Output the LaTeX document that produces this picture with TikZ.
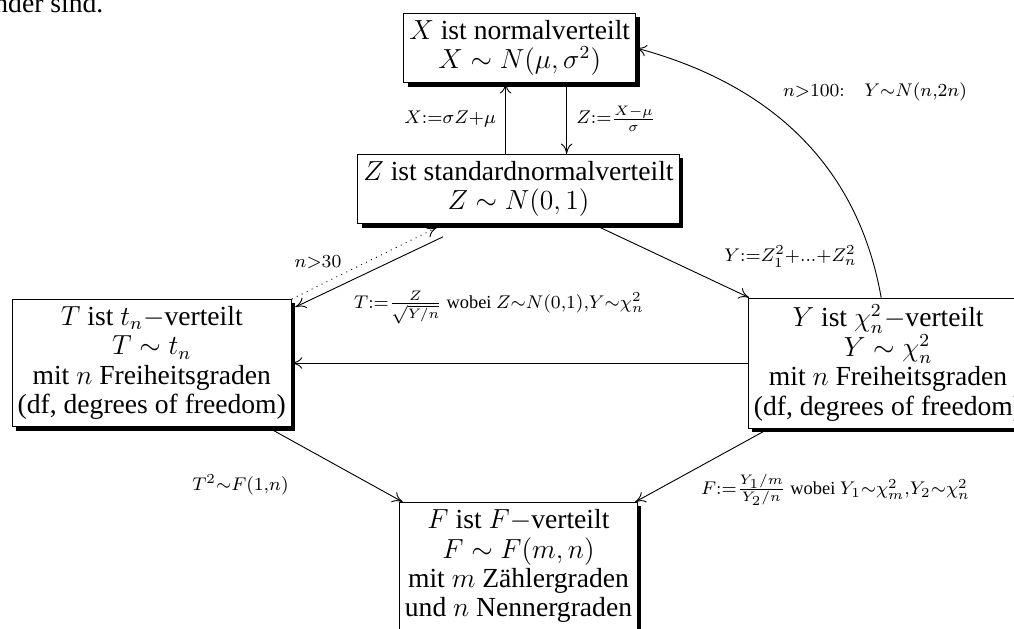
\documentclass[12pt,tikz,border=0pt]{standalone}
\usepackage{amsmath}
\usepackage[no-math]{fontspec}
\setmainfont{Liberation Serif}
\usetikzlibrary{shadows, arrows.meta}

\tikzset{
  vert/.style={draw, fill=white, align=center, inner xsep=2.4pt, inner ysep=3pt,
    font=\fontsize{12}{12.8}\selectfont,
    drop shadow={shadow xshift=1.7pt, shadow yshift=-1.7pt, fill=black, opacity=1}},
  >={To[length=4.5pt, width=5pt]}
}

\begin{document}
\begin{tikzpicture}
  \useasboundingbox (0,0) rectangle (15.495,9.597);
  % --- tail of the text above ---
  \node[anchor=base west, inner sep=0pt] (rest) at (-0.092,9.413) {nder sind.};

  % --- distributions ---
  \node[vert] (X) at (7.942,8.863) {$X$ ist normalverteilt\\ $X\sim N(\mu,\sigma^2)$};
  \node[vert] (Z) at (7.923,6.708) {$Z$ ist standardnormalverteilt\\ $Z\sim N(0,1)$};
  \node[vert, anchor=west] (T) at (0.179,4.049) {$T$ ist $t_n-$verteilt\\ $T\sim t_n$\\ mit $n$ Freiheitsgraden\\ (df, degrees of freedom)};
  \node[vert, anchor=west] (Y) at (11.430,4.049) {$Y$ ist $\chi^2_n-$verteilt\\ $Y\sim\chi^2_n$\\ mit $n$ Freiheitsgraden\\ (df, degrees of freedom)};
  \node[vert, anchor=north] (F) at (7.923,1.925) {$F$ ist $F-$verteilt\\ $F\sim F(m,n)$\\ mit $m$ Zählergraden\\ und $n$ Nennergraden};

  % --- X and Z ---
  \draw[->] ([xshift=-5.6pt]Z.north) -- ([xshift=-5.6pt]Z.north |- X.south) node[midway, left] {$\scriptstyle X:=\sigma Z+\mu$};
  \draw[->] ([xshift=20.4pt]X.south) -- ([xshift=20.4pt]X.south |- Z.north) node[midway, right] {$\scriptstyle Z:=\frac{X-\mu}{\sigma}$};

  % --- Z to T and Y ---
  \draw[->] (Z) -- (Y);
  \draw[->] ([xshift=-32.8pt,yshift=-5.5pt]Z.south) -- ([xshift=1.5pt,yshift=-3.5pt]T.north east);
  \draw[->, dotted] (T.north east) -- ([xshift=-35.6pt,yshift=-1.5pt]Z.south);
  \draw[->] (Y) -- (T);

  % --- to F, back to X ---
  \draw[->] (T) -- (F);
  \draw[->] (Y) -- (F);
  \draw[->] ([xshift=-3pt]Y.north) to[out=100, in=-15] (X.east);

  % --- labels ---
  \node (lblNT) at (4.859,5.593) {$\scriptstyle n>30$};
  \node (lblT) at (7.625,4.898) {$\scriptstyle T:=\frac{Z}{\sqrt{Y/n}}\text{ wobei }Z\sim N(0,1),Y\sim\chi^2_n$};
  \node (lblY) at (12.08,5.677) {$\scriptstyle Y:=Z_1^2+...+Z_n^2$};
  \node (lblTF) at (3.675,2.185) {$\scriptstyle T^2\sim F(1,n)$};
  \node (lblF) at (12.767,2.109) {$\scriptstyle F:=\frac{Y_1/m}{Y_2/n}\text{ wobei }Y_1\sim\chi^2_m,Y_2\sim\chi^2_n$};
  \node (lblN) at (13.371,8.191) {$\scriptstyle n>100:\mskip18mu Y\sim N(n,2n)$};
\end{tikzpicture}
\end{document}
